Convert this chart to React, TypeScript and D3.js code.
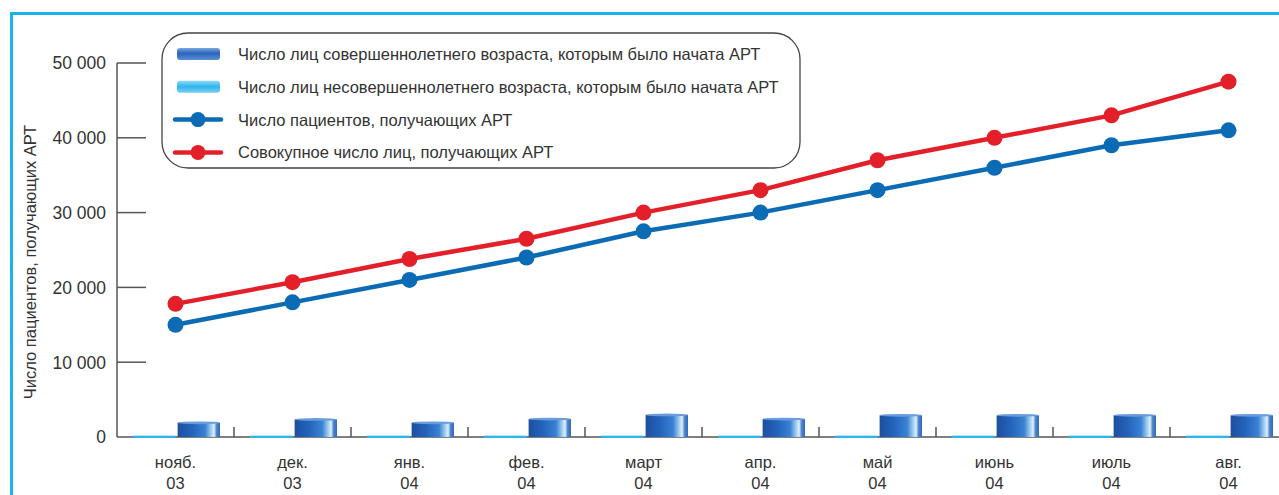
import React from "react";
import * as d3 from "d3";

// months along the x axis (two-line labels)
const months = ["нояб.", "дек.", "янв.", "фев.", "март", "апр.", "май", "июнь", "июль", "авг."];
const years = ["03", "03", "04", "04", "04", "04", "04", "04", "04", "04"];

// bars: adults / children started on ART
const adultsStarted = [1900, 2350, 1900, 2400, 2950, 2400, 2900, 2900, 2900, 2900];
const childrenStarted = [180, 180, 180, 180, 180, 180, 180, 180, 180, 180];

// lines
const patientsOnArt = [15000, 18000, 21000, 24000, 27500, 30000, 33000, 36000, 39000, 41000];
const cumulativeOnArt = [17800, 20700, 23800, 26500, 30000, 33000, 37000, 40000, 43000, 47500];

const yTicks = [0, 10000, 20000, 30000, 40000, 50000];

const legendItems = [
  { label: "Число лиц совершеннолетнего возраста, которым было начата АРТ", kind: "adult" },
  { label: "Число лиц несовершеннолетнего возраста, которым было начата АРТ", kind: "child" },
  { label: "Число пациентов, получающих АРТ", kind: "blue" },
  { label: "Совокупное число лиц, получающих АРТ", kind: "red" },
];

const width = 1279;
const height = 495;
const margin = { left: 117, top: 63, bottom: 58 };
const font = "'Liberation Sans', Arial, sans-serif";
const blue = "#0b6cb5";
const red = "#e3202a";
const axisColor = "#555";

const fmt = (v: number) => (v === 0 ? "0" : d3.format(",")(v).replace(",", " "));

const App = () => {
  const innerBottom = height - margin.bottom; // y of zero

  const x = d3.scaleBand<string>()
    .domain(months)
    .range([margin.left, margin.left + 117 * months.length]);

  const y = d3.scaleLinear().domain([0, 50000]).range([innerBottom, margin.top]);

  const inner = d3.scaleBand<string>()
    .domain(["child", "adult"])
    .range([16, x.bandwidth() - 14])
    .paddingInner(0.05);

  const cx = (i: number) => (x(months[i]) as number) + x.bandwidth() / 2;

  const line = d3.line<number>()
    .x((_, i) => cx(i))
    .y((d) => y(d));

  return (
    <svg width={width} height={height} style={{ position: "absolute", left: 0, top: 0, background: "#fff" }}>
      <defs>
        <linearGradient id="cyl" x1="0" x2="1" y1="0" y2="0">
          <stop offset="0" stopColor="#1c4f9f" />
          <stop offset="0.35" stopColor="#2464bd" />
          <stop offset="0.65" stopColor="#3a82d4" />
          <stop offset="0.8" stopColor="#a8d2f2" />
          <stop offset="0.86" stopColor="#e0f0fb" />
          <stop offset="0.92" stopColor="#4b86cf" />
          <stop offset="1" stopColor="#3568b5" />
        </linearGradient>
        <linearGradient id="cylLight" x1="0" x2="0" y1="0" y2="1">
          <stop offset="0" stopColor="#8fd8f8" />
          <stop offset="0.5" stopColor="#2bb6ee" />
          <stop offset="1" stopColor="#7fd0f4" />
        </linearGradient>
        <linearGradient id="cylLeg" x1="0" x2="0" y1="0" y2="1">
          <stop offset="0" stopColor="#7aa6e0" />
          <stop offset="0.45" stopColor="#2a64bb" />
          <stop offset="1" stopColor="#5a8fd6" />
        </linearGradient>
      </defs>

      {/* outer frame */}
      <rect x={11.5} y={13.5} width={1400} height={600} fill="none" stroke="#19b3ec" strokeWidth={3} />

      {/* y axis */}
      <line x1={margin.left} x2={margin.left} y1={y(50000)} y2={innerBottom} stroke={axisColor} strokeWidth={1.5} />
      {yTicks.map((t) => (
        <g key={t}>
          {t > 0 && (
            <line x1={margin.left} x2={margin.left + 29} y1={y(t)} y2={y(t)} stroke={axisColor} strokeWidth={1.5} />
          )}
          <text x={106} y={y(t)} dy="0.36em" textAnchor="end" fontFamily={font} fontSize={17.5} fill="#333">
            {fmt(t)}
          </text>
        </g>
      ))}
      <text
        transform={`translate(36,${(y(50000) + innerBottom) / 2 + 12}) rotate(-90)`}
        textAnchor="middle"
        fontFamily={font}
        fontSize={16.5}
        fill="#333"
      >
        Число пациентов, получающих АРТ
      </text>

      {/* x axis */}
      <line x1={margin.left} x2={width} y1={innerBottom} y2={innerBottom} stroke={axisColor} strokeWidth={1.5} />

      {/* bars */}
      {months.map((m, i) => {
        const bx = x(m) as number;
        const ca = bx + (inner("adult") as number);
        const cc = bx + (inner("child") as number);
        const bw = inner.bandwidth();
        const ay = y(adultsStarted[i]);
        return (
          <g key={m}>
            <rect x={cc} y={y(childrenStarted[i])} width={bw} height={innerBottom - y(childrenStarted[i]) + 1} fill="#2fb4ec" />
            <rect x={ca} y={ay} width={bw} height={innerBottom - ay} fill="url(#cyl)" />
            <ellipse cx={ca + bw / 2} cy={ay} rx={bw / 2} ry={1.4} fill="#6a9cdc" />
          </g>
        );
      })}

      {months.map((m, i) => {
        const bx = (x(m) as number) + x.bandwidth();
        return (
          <g key={m}>
            <line x1={bx} x2={bx} y1={innerBottom} y2={innerBottom - 10} stroke={axisColor} strokeWidth={1.5} />
            <text x={cx(i)} y={468} textAnchor="middle" fontFamily={font} fontSize={16.5} fill="#333">
              {m}
            </text>
            <text x={cx(i)} y={489} textAnchor="middle" fontFamily={font} fontSize={16.5} fill="#333">
              {years[i]}
            </text>
          </g>
        );
      })}

      {/* lines */}
      <path d={line(patientsOnArt) ?? ""} fill="none" stroke={blue} strokeWidth={4.5} strokeLinejoin="round" />
      <path d={line(cumulativeOnArt) ?? ""} fill="none" stroke={red} strokeWidth={4.5} strokeLinejoin="round" />
      {patientsOnArt.map((v, i) => (
        <circle key={"b" + i} cx={cx(i)} cy={y(v)} r={8} fill={blue} />
      ))}
      {cumulativeOnArt.map((v, i) => (
        <circle key={"r" + i} cx={cx(i)} cy={y(v)} r={8} fill={red} />
      ))}

      {/* legend */}
      <rect x={162} y={33} width={638} height={135} rx={26} ry={26} fill="#fff" stroke="#444" strokeWidth={1.3} />
      {legendItems.map((it, i) => {
        const ly = 54 + i * 32.8;
        return (
          <g key={it.label}>
            {it.kind === "adult" && (
              <rect x={177} y={ly - 6} width={43} height={12} rx={3} fill="url(#cylLeg)" />
            )}
            {it.kind === "child" && (
              <rect x={177} y={ly - 6} width={43} height={12} rx={3} fill="url(#cylLight)" />
            )}
            {(it.kind === "blue" || it.kind === "red") && (
              <g>
                <line x1={175} x2={221} y1={ly} y2={ly} stroke={it.kind === "blue" ? blue : red} strokeWidth={4.5} strokeLinecap="round" />
                <circle cx={198} cy={ly} r={7.5} fill={it.kind === "blue" ? blue : red} />
              </g>
            )}
            <text x={238} y={ly} dy="0.36em" fontFamily={font} fontSize={16.5} fill="#333">
              {it.label}
            </text>
          </g>
        );
      })}
    </svg>
  );
};

export default App;
